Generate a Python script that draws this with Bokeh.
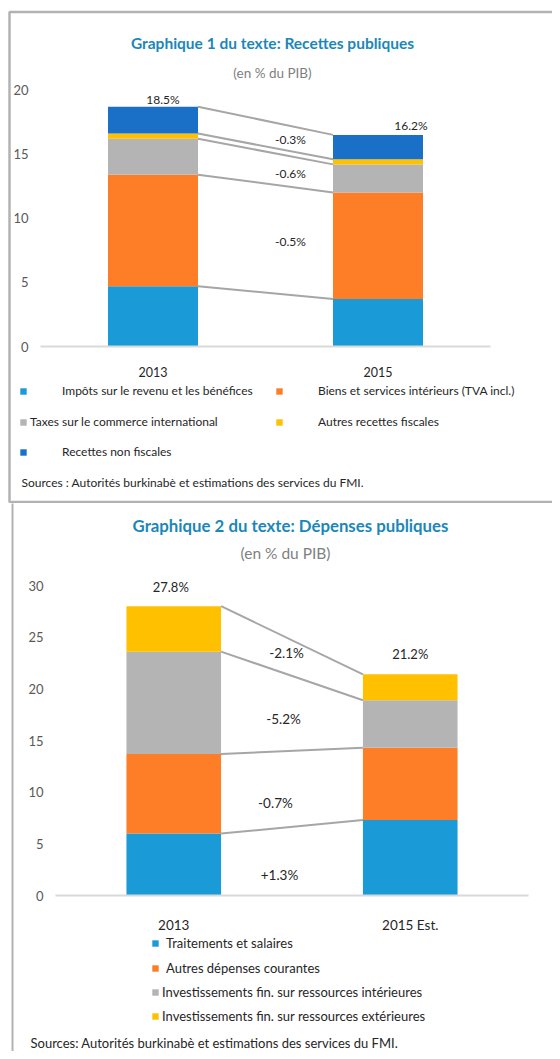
from bokeh.plotting import figure
from bokeh.models import Range1d, Label, Legend, LegendItem, BoxAnnotation, ColumnDataSource, FixedTicker
from bokeh.layouts import column
from bokeh.embed import file_html
from bokeh.resources import INLINE
from bokeh.core.properties import value

FONT = "Lato"

# ---------------- data: chart 1 (Recettes publiques) ----------------
rec_years = ["2013", "2015"]
rec_names = ["Impôts sur le revenu et les bénéfices",
             "Biens et services intérieurs (TVA incl.)",
             "Taxes sur le commerce international",
             "Autres recettes fiscales",
             "Recettes non fiscales"]
rec_2013 = [4.7, 8.7, 2.8, 0.4, 2.1]
rec_2015 = [3.7, 8.3, 2.2, 0.4, 1.9]
rec_totals = ["18.5%", "16.2%"]
rec_changes = ["-0.3%", "-0.6%", "-0.5%"]
rec_ticks = [0, 5, 10, 15, 20]

# ---------------- data: chart 2 (Dépenses publiques) ----------------
dep_years = ["2013", "2015 Est."]
dep_names = ["Traitements et salaires",
             "Autres dépenses courantes",
             "Investissements fin. sur ressources intérieures",
             "Investissements fin. sur ressources extérieures"]
dep_2013 = [6.0, 7.7, 9.9, 4.4]
dep_2015 = [7.3, 7.0, 4.6, 2.5]
dep_totals = ["27.8%", "21.2%"]
dep_changes = ["-2.1%", "-5.2%", "-0.7%", "+1.3%"]
dep_ticks = [0, 5, 10, 15, 20, 25, 30]

# ---------------- styles / layout ----------------
C_BLUE = "#1a9bd7"
C_ORANGE = "#fd7e26"
C_GRAY = "#b4b4b4"
C_YELLOW = "#ffc000"
C_DBLUE = "#1a70c6"
C_LINK = "#a6a6a6"
C_TITLE = "#1b87b8"
C_TEXT = "#262626"
C_TICK = "#595959"
BAR_W = 0.4
W = 552


def cumsum(vals):
    out, s = [], 0.0
    for v in vals:
        s += v
        out.append(round(s, 4))
    return out


class Chart:
    """figure whose frame is the whole canvas; plot area placed by pixel geometry"""

    def __init__(self, years, ticks, h, top_page, ax_left, ax_right, y0_px, ymax, ytop_px,
                 tick_size, cat_size, cat_standoff):
        self.h = h
        self.top_page = top_page
        ppx = (ax_right - ax_left) / len(years)
        ppy = (y0_px - ytop_px) / ymax
        cb = y0_px - top_page
        xr = Range1d(-ax_left / ppx, len(years) + (W - ax_right) / ppx)
        yr = Range1d(-(h - cb) / ppy, cb / ppy)
        p = figure(width=W, height=h, x_range=xr, y_range=yr,
                   output_backend="svg", toolbar_location=None,
                   min_border=0, min_border_left=0, min_border_right=0,
                   min_border_top=0, min_border_bottom=0)
        p.xgrid.grid_line_color = None
        p.ygrid.grid_line_color = None
        p.outline_line_color = None
        p.yaxis.fixed_location = 0
        p.yaxis.ticker = FixedTicker(ticks=ticks)
        p.yaxis.axis_line_color = None
        p.yaxis.major_tick_line_color = None
        p.yaxis.major_tick_out = 0
        p.yaxis.major_tick_in = 0
        p.yaxis.minor_tick_line_color = None
        p.yaxis.major_label_text_color = C_TICK
        p.yaxis.major_label_text_font = FONT
        p.yaxis.major_label_text_font_size = tick_size
        p.yaxis.major_label_standoff = 12
        p.xaxis.fixed_location = 0
        p.xaxis.bounds = (0, len(years))
        p.xaxis.ticker = FixedTicker(ticks=[i + 0.5 for i in range(len(years))])
        p.xaxis.major_label_overrides = {i + 0.5: y for i, y in enumerate(years)}
        p.xaxis.axis_line_color = "#d9d9d9"
        p.xaxis.axis_line_width = 2
        p.xaxis.major_tick_line_color = None
        p.xaxis.major_tick_out = 0
        p.xaxis.major_tick_in = 0
        p.xaxis.minor_tick_line_color = None
        p.xaxis.major_label_text_color = C_TEXT
        p.xaxis.major_label_text_font = FONT
        p.xaxis.major_label_text_font_size = cat_size
        p.xaxis.major_label_standoff = cat_standoff
        self.p = p

    def sx(self, page_x):
        return page_x

    def sy(self, page_y):
        return self.h - (page_y - self.top_page)

    def label(self, text, px, py, size, color=C_TEXT, bold=False, align="center"):
        self.p.add_layout(Label(x=self.sx(px), y=self.sy(py), x_units="screen", y_units="screen",
                                text=text, text_font=FONT, text_font_size=size, text_color=color,
                                text_font_style="bold" if bold else "normal",
                                text_align=align, text_baseline="middle"))

    def key(self, renderer, text, px, py, standoff, size):
        lg = Legend(items=[LegendItem(label=text, renderers=[renderer])],
                    location=(self.sx(px), self.sy(py) - 7), glyph_width=8, glyph_height=8,
                    label_standoff=standoff, label_height=14, padding=0, margin=0,
                    spacing=0, border_line_color=None, background_fill_alpha=0,
                    label_text_font=FONT, label_text_font_size=size,
                    label_text_color=C_TEXT)
        self.p.add_layout(lg)

    def box(self, left, top, bottom, lw):
        self.p.add_layout(BoxAnnotation(left=left, right=700, top=top - self.top_page,
                                        bottom=bottom - self.top_page,
                                        left_units="canvas", right_units="canvas",
                                        top_units="canvas", bottom_units="canvas",
                                        fill_alpha=0, line_color="black", line_width=lw))


def add_stack(p, names, v0, v1, colors):
    data = {"x": [0.5, 1.5]}
    keys = []
    for i in range(len(names)):
        k = "s%d" % i
        data[k] = [v0[i], v1[i]]
        keys.append(k)
    src = ColumnDataSource(data)
    rs = p.vbar_stack(keys, x="x", width=BAR_W, color=colors, line_color=None, source=src)
    c0, c1 = cumsum(v0), cumsum(v1)
    n = len(c0)
    p.segment(x0=[0.5 + BAR_W / 2] * n, y0=c0, x1=[1.5 - BAR_W / 2] * n, y1=c1,
              line_color=C_LINK, line_width=2)
    return rs, c0, c1


# ================= chart 1 =================
c1 = Chart(rec_years, rec_ticks, 503, 0, 40, 490, 346, 20, 89.5, "13px", "12.5px", 20)
p1 = c1.p
r1, a0, a1 = add_stack(p1, rec_names, rec_2013, rec_2015,
                       [C_BLUE, C_ORANGE, C_GRAY, C_YELLOW, C_DBLUE])
p1.text(x=[0.5, 1.5], y=[a0[-1], a1[-1]], text=rec_totals,
        x_offset=[10, 33], y_offset=[-7, -9],
        text_font=value(FONT), text_font_size="12px", text_color=C_TEXT,
        text_align="center", text_baseline="middle")
p1.text(x=[1.111] * 3, y=[16.14, 13.49, 8.19], text=rec_changes,
        text_font=value(FONT), text_font_size="12px", text_color=C_TEXT,
        text_align="center", text_baseline="middle")

c1.label("Graphique 1 du texte: Recettes publiques", 272, 42, "15.5px", C_TITLE, True)
c1.label("(en % du PIB)", 272, 72, "13.5px", "#7f7f7f")
c1.label("Sources : Autorités burkinabè et estimations des services du FMI.", 21, 482, "12px", C_TEXT, align="left")

c1.key(r1[0], rec_names[0], 19, 391, 35, "12px")
c1.key(r1[1], rec_names[1], 275, 391, 35, "12px")
c1.key(r1[2], rec_names[2], 19, 422, 3, "12px")
c1.key(r1[3], rec_names[3], 275, 422, 35, "12px")
c1.key(r1[4], rec_names[4], 19, 452, 35, "12px")
c1.box(9, 11.5, 501.5, 2.5)

# ================= chart 2 =================
c2 = Chart(dep_years, dep_ticks, 548, 503, 55, 528, 895, 30, 585, "13px", "13.5px", 21)
p2 = c2.p
r2, b0, b1 = add_stack(p2, dep_names, dep_2013, dep_2015,
                       [C_BLUE, C_ORANGE, C_GRAY, C_YELLOW])
p2.text(x=[0.5, 1.5], y=[b0[-1], b1[-1]], text=dep_totals,
        x_offset=[-3, 0], y_offset=[-19, -20],
        text_font=value(FONT), text_font_size="13px", text_color=C_TEXT,
        text_align="center", text_baseline="middle")
p2.text(x=[0.977, 0.964, 0.930, 0.947], y=[23.5, 17.1, 9.0, 2.03], text=dep_changes,
        text_font=value(FONT), text_font_size="13.5px", text_color=C_TEXT,
        text_align="center", text_baseline="middle")

c2.label("Graphique 2 du texte: Dépenses publiques", 290, 525, "16.8px", C_TITLE, True)
c2.label("(en % du PIB)", 285, 552, "15.5px", "#7f7f7f")
c2.label("Sources: Autorités burkinabè et estimations des services du FMI.", 30, 1042, "13px", C_TEXT, align="left")

c2.key(r2[0], dep_names[0], 151, 944, 7, "13px")
c2.key(r2[1], dep_names[1], 151, 969, 7, "13px")
c2.key(r2[2], dep_names[2], 151, 993, 3, "13px")
c2.key(r2[3], dep_names[3], 151, 1017, 3, "13px")
c2.box(12, 500, 1200, 2)

layout = column(p1, p2, spacing=0)
open("out.html", "w").write(file_html(layout, INLINE))
